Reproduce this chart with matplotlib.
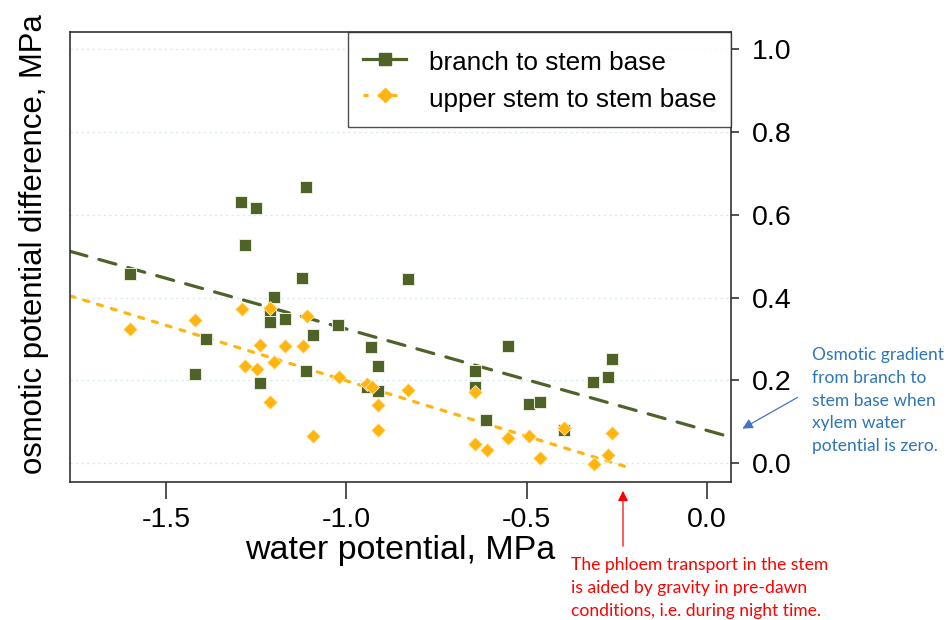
import matplotlib
matplotlib.use("Agg")
import matplotlib.pyplot as plt
import numpy as np

# ---- data ----
branch_x = [-1.601, -1.420, -1.391, -1.292, -1.282, -1.252, -1.240, -1.213, -1.213, -1.201,
            -1.171, -1.123, -1.113, -1.112, -1.093, -1.023, -0.944, -0.932, -0.913, -0.913,
            -0.830, -0.643, -0.643, -0.612, -0.552, -0.492, -0.463, -0.395, -0.314, -0.275, -0.262]
branch_y = [0.456, 0.216, 0.300, 0.629, 0.526, 0.616, 0.194, 0.366, 0.340, 0.402,
            0.348, 0.447, 0.666, 0.222, 0.310, 0.334, 0.184, 0.281, 0.236, 0.175,
            0.444, 0.223, 0.185, 0.105, 0.284, 0.143, 0.147, 0.081, 0.196, 0.208, 0.252]

upper_x = [-1.601, -1.421, -1.291, -1.282, -1.249, -1.241, -1.213, -1.213, -1.201, -1.171,
           -1.122, -1.111, -1.092, -1.021, -0.944, -0.930, -0.912, -0.912, -0.830, -0.643,
           -0.643, -0.611, -0.552, -0.492, -0.463, -0.395, -0.312, -0.273, -0.262]
upper_y = [0.324, 0.346, 0.372, 0.236, 0.228, 0.286, 0.374, 0.147, 0.244, 0.284,
           0.283, 0.356, 0.066, 0.209, 0.192, 0.184, 0.142, 0.081, 0.177, 0.173,
           0.046, 0.033, 0.062, 0.066, 0.014, 0.086, -0.002, 0.020, 0.073]

# fitted lines: intercept, slope, x-range
branch_fit = (0.080, -0.244)
branch_fit_x = [-1.768, 0.068]
upper_fit = (-0.0675, -0.2667)
upper_fit_x = [-1.768, -0.208]

x_ticks = [-1.5, -1.0, -0.5, 0.0]
y_ticks = [0.0, 0.2, 0.4, 0.6, 0.8, 1.0]
series_labels = ["branch to stem base", "upper stem to stem base"]

GREEN = "#4F6228"
GOLD = "#FFB40F"

plt.rcParams['font.family'] = ['Liberation Sans', 'DejaVu Sans']

fig = plt.figure(figsize=(9.48, 6.20), dpi=100)
W, H = 948, 620
ax = fig.add_axes([70 / W, 1 - 482 / H, (731 - 70) / W, (482 - 32) / H])

ax.set_xlim(-1.768, 0.068)
ax.set_ylim(-0.0446, 1.0398)

for yv in y_ticks:
    ax.axhline(yv, color="#d5ebeb", lw=1.0, ls=(0, (1.5, 2.5)), zorder=0)

fx = np.array(branch_fit_x)
ax.plot(fx, branch_fit[0] + branch_fit[1] * fx, color=GREEN, lw=2.3,
        dashes=(5.5, 3.9), zorder=2, dash_capstyle='round')
fx2 = np.array(upper_fit_x)
ax.plot(fx2, upper_fit[0] + upper_fit[1] * fx2, color=GOLD, lw=2.3,
        dashes=(1.6, 2.9), zorder=2, dash_capstyle='round')

ax.plot(branch_x, branch_y, ls='none', marker='s', ms=8.2, mfc=GREEN,
        mec="#e8eedc", mew=0.7, zorder=3)
ax.plot(upper_x, upper_y, ls='none', marker='D', ms=7.6, mfc=GOLD,
        mec="#ffe8a8", mew=0.6, zorder=4)

# legend handles
h1, = ax.plot([], [], color=GREEN, lw=2.3, marker='s', ms=8.2, mfc=GREEN, mec=GREEN)
h2, = ax.plot([], [], color=GOLD, lw=2.3, dashes=(1.6, 2.9), marker='D', ms=7.6,
              mfc=GOLD, mec=GOLD)
leg = ax.legend([h1, h2], series_labels, loc='upper right', bbox_to_anchor=(1.0, 1.0),
                borderaxespad=0.0, fontsize=18.8, frameon=True, fancybox=False,
                handlelength=1.65, handletextpad=0.85, borderpad=0.57,
                labelspacing=0.27, handleheight=1.35)
leg.get_frame().set_edgecolor("#222222")
leg.get_frame().set_linewidth(1.0)

for s in ax.spines.values():
    s.set_color("#333333")
    s.set_linewidth(1.2)

ax.set_xticks(x_ticks)
ax.set_xticklabels([f"{v:.1f}" for v in x_ticks])
ax.set_yticks(y_ticks)
ax.set_yticklabels([f"{v:.1f}" for v in y_ticks])
ax.yaxis.tick_right()
ax.tick_params(axis='x', length=12, width=1.2, color="#333333", pad=6, labelsize=20.5)
ax.tick_params(axis='y', length=6, width=1.2, color="#333333", pad=9, labelsize=20.5)

ax.set_xlabel("water potential, MPa", fontsize=24.5)
ax.xaxis.set_label_coords(0.5, -0.118)
ax.set_ylabel("osmotic potential difference, MPa", fontsize=22.4)
ax.yaxis.set_label_position('left')
ax.yaxis.set_label_coords(-0.032, 0.529)

# annotations
blue_text = "Osmotic gradient\nfrom branch to\nstem base when\nxylem water\npotential is zero."
fig.text(812 / W, 1 - 347 / H, blue_text, color="#2E75B6", fontsize=12.5,
         family=['Lato', 'DejaVu Sans'], va='top', ha='left', linespacing=1.52)
fig.add_artist(matplotlib.patches.FancyArrowPatch(
    (800 / W, 1 - 396 / H), (740 / W, 1 - 430 / H), transform=fig.transFigure,
    arrowstyle='-|>,head_length=6,head_width=3', color="#4472C4", lw=0.9))

red_text = "The phloem transport in the stem\nis aided by gravity in pre-dawn\nconditions, i.e. during night time."
fig.text(571 / W, 1 - 557 / H, red_text, color="#FF0000", fontsize=12.6,
         family=['Lato', 'DejaVu Sans'], va='top', ha='left', linespacing=1.52)
fig.add_artist(matplotlib.patches.FancyArrowPatch(
    (623 / W, 1 - 549 / H), (623 / W, 1 - 488 / H), transform=fig.transFigure,
    arrowstyle='-|>,head_length=6,head_width=3', color="#FF0000", lw=0.9))

fig.savefig("out.png", dpi=100, facecolor='white')
